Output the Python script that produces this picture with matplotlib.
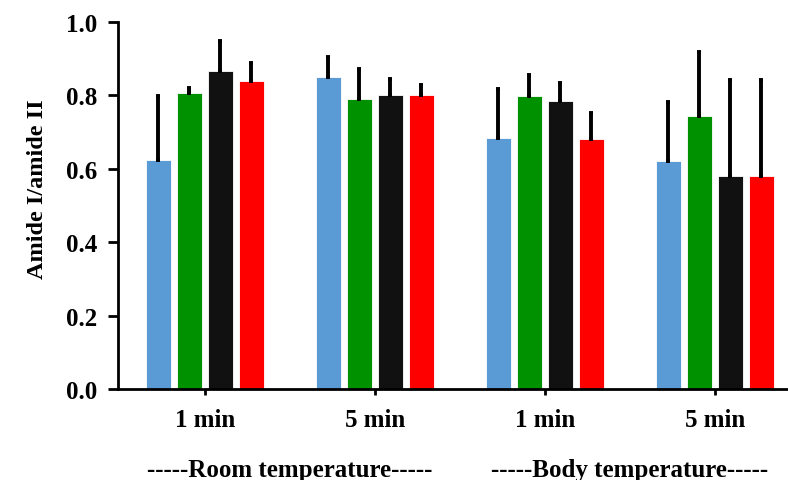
import matplotlib
matplotlib.use("Agg")
import matplotlib.pyplot as plt
import matplotlib.transforms as mtransforms
import numpy as np

plt.rcParams['font.family'] = ['Liberation Serif', 'DejaVu Serif']
plt.rcParams['font.weight'] = 'bold'

groups = ["1 min", "5 min", "1 min", "5 min"]
group_labels = ["-----Room temperature-----", "-----Body temperature-----"]
series_colors = ["#5B9BD5", "#009100", "#111111", "#FF0000"]

# mean values per series (blue, green, black, red) for each group
blue = [0.624, 0.849, 0.683, 0.622]
green = [0.807, 0.790, 0.799, 0.743]
black = [0.866, 0.802, 0.784, 0.580]
red = [0.838, 0.800, 0.681, 0.580]
# upper error magnitudes
blue_err = [0.174, 0.056, 0.134, 0.161]
green_err = [0.013, 0.083, 0.057, 0.174]
black_err = [0.081, 0.042, 0.049, 0.262]
red_err = [0.049, 0.029, 0.070, 0.262]

series = [blue, green, black, red]
errs = [blue_err, green_err, black_err, red_err]

fig = plt.figure(figsize=(7.88, 4.81), dpi=100)
ax = fig.add_axes([118/788, 1-390/481, 670/788, 367/481])

x = np.arange(len(groups))
slot = 31/170
width = 25/170
for i, (vals, e, c) in enumerate(zip(series, errs, series_colors)):
    pos = x + (i - 1.5) * slot
    ax.bar(pos, vals, width=width, color=c, edgecolor='white', linewidth=0.6, zorder=2)
    ax.errorbar(pos, vals, yerr=[np.zeros(len(e)), e], fmt='none', ecolor='black',
                elinewidth=2.8, capsize=1.5, capthick=2.8, zorder=3)

ax.set_xlim(-0.51, 3.43)
ax.set_ylim(0, 1.0)
ticks = np.arange(0, 1.01, 0.2)
ax.set_yticks(ticks)
ax.set_yticklabels([f"{v:.1f}" for v in ticks], fontsize=18, fontweight='bold')
ax.set_xticks(x)
ax.set_xticklabels(groups, fontsize=18, fontweight='bold')
ax.set_ylabel("Amide I/amide II", fontsize=17.5, fontweight='bold')
ax.yaxis.set_label_coords(-0.104, 0.548)

for s in ['top', 'right']:
    ax.spines[s].set_visible(False)
for s in ['left', 'bottom']:
    ax.spines[s].set_linewidth(2)
ax.tick_params(axis='y', direction='out', length=7, width=2, pad=8)
ax.tick_params(axis='x', direction='out', length=4, width=2, pad=10)

trans = mtransforms.blended_transform_factory(ax.transData, ax.transAxes)
ax.text(0.5, -0.218, group_labels[0], transform=trans, ha='center', va='center',
        fontsize=18, fontweight='bold')
ax.text(2.5, -0.218, group_labels[1], transform=trans, ha='center', va='center',
        fontsize=18, fontweight='bold')

fig.savefig("out.png", dpi=100)
